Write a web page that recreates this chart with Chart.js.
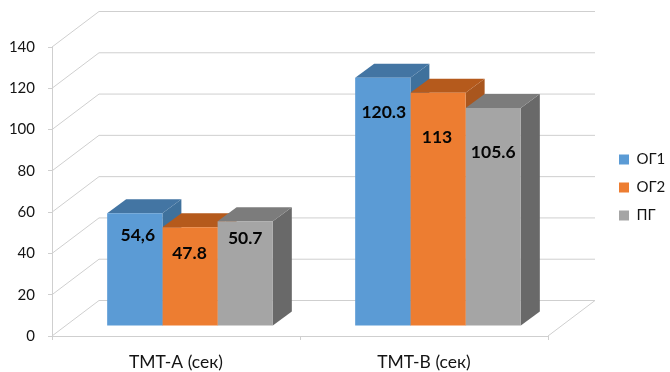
<!DOCTYPE html>
<html>
<head>
<meta charset="utf-8">
<script src="https://cdn.jsdelivr.net/npm/chart.js@4"></script>
<style>
html, body { margin: 0; padding: 0; background: #fff; }
#wrap { width: 670px; height: 372px; }
</style>
</head>
<body>
<div id="wrap"><canvas id="testChart"></canvas></div>
<script>
const categories = ["ТМТ-А (сек)", "ТМТ-В (сек)"];
const seriesNames = ["ОГ1", "ОГ2", "ПГ"];
const og1Values = [54.6, 120.3];
const og2Values = [47.8, 113];
const pgValues = [50.7, 105.6];
const og1Labels = ["54,6", "120.3"];
const og2Labels = ["47.8", "113"];
const pgLabels = ["50.7", "105.6"];

// label nudges from bar centre / bar top, per series and category
const labelNudge = [
    [[3, 22], [1, 35]],
    [[-0.5, 26], [-1, 45]],
    [[0, 17], [0, 44]]
];

const frontColors = ["#5B9BD5", "#ED7D31", "#A5A5A5"];
const sideColors = ["#3F719C", "#A9561E", "#696969"];
const topColors = ["#4375A3", "#B55A1C", "#7C7C7C"];

const FONT = "Lato, 'Open Sans', sans-serif";
const TEXT = "#141414";
const GRID = "#cfcfcf";

const WALL = { x: 47, y: -35.5 };   // depth of the box
const FLOOR = { x: 14, y: -10 };    // where the bars stand on the floor
const DEPTH = { x: 19, y: -14 };    // depth of one bar

function line(ctx, x1, y1, x2, y2) {
    ctx.beginPath();
    ctx.moveTo(x1, y1);
    ctx.lineTo(x2, y2);
    ctx.stroke();
}

function poly(ctx, pts, color) {
    ctx.fillStyle = color;
    ctx.beginPath();
    pts.forEach((p, i) => i ? ctx.lineTo(p[0], p[1]) : ctx.moveTo(p[0], p[1]));
    ctx.closePath();
    ctx.fill();
}

const box3d = {
    id: "box3d",

    beforeLayout(chart) {
        // keep the plot width fixed, the legend sits further right
        const legend = chart.legend;
        if (!legend._fitWrapped) {
            const fit = legend.fit;
            legend.fit = function () {
                fit.call(this);
                this.width = 122;
            };
            legend._fitWrapped = true;
        }
    },

    afterLayout(chart) {
        chart.legend.left = 606;
        chart.legend.top = 3;
    },

    beforeDatasetsDraw(chart) {
        const ctx = chart.ctx;
        const { left, right, bottom } = chart.chartArea;
        const yScale = chart.scales.y;

        // side wall and back wall lines
        ctx.save();
        ctx.strokeStyle = GRID;
        ctx.lineWidth = 1;
        yScale.ticks.forEach(t => {
            const y = yScale.getPixelForValue(t.value);
            line(ctx, left, y, left + WALL.x, y + WALL.y);
            line(ctx, left + WALL.x, y + WALL.y, right + WALL.x, y + WALL.y);
        });
        line(ctx, right, bottom, right + WALL.x, bottom + WALL.y);
        ctx.restore();

        // bars stand back from the front edge of the floor
        ctx.save();
        ctx.translate(FLOOR.x, FLOOR.y);
        chart.data.datasets.forEach((ds, i) => {
            chart.getDatasetMeta(i).data.forEach(bar => {
                const l = bar.x - bar.width / 2;
                const r = bar.x + bar.width / 2;
                poly(ctx, [[r, bar.y], [r + DEPTH.x, bar.y + DEPTH.y], [r + DEPTH.x, bar.base + DEPTH.y], [r, bar.base]], sideColors[i]);
                poly(ctx, [[l, bar.y], [l + DEPTH.x, bar.y + DEPTH.y], [r + DEPTH.x, bar.y + DEPTH.y], [r, bar.y]], topColors[i]);
            });
        });
    },

    afterDatasetsDraw(chart) {
        const ctx = chart.ctx;
        ctx.font = "bold 17.5px " + FONT;
        ctx.fillStyle = "#050505";
        ctx.textAlign = "center";
        ctx.textBaseline = "middle";
        chart.data.datasets.forEach((ds, i) => {
            chart.getDatasetMeta(i).data.forEach((bar, j) => {
                const nudge = labelNudge[i][j];
                ctx.fillText(ds.valueLabels[j], bar.x + nudge[0], bar.y + nudge[1]);
            });
        });
        ctx.restore();
    }
};

const seriesValues = [og1Values, og2Values, pgValues];
const seriesLabels = [og1Labels, og2Labels, pgLabels];

new Chart(document.getElementById("testChart"), {
    type: "bar",
    data: {
        labels: categories,
        datasets: seriesNames.map((name, i) => ({
            label: name,
            data: seriesValues[i],
            valueLabels: seriesLabels[i],
            backgroundColor: frontColors[i],
            borderWidth: 0,
            clip: false,
            categoryPercentage: 0.668,
            barPercentage: 1
        }))
    },
    plugins: [box3d],
    options: {
        responsive: true,
        maintainAspectRatio: false,
        animation: false,
        layout: { padding: { top: 47 } },
        plugins: {
            tooltip: { enabled: false },
            legend: {
                position: "right",
                labels: {
                    boxWidth: 10,
                    boxHeight: 10,
                    padding: 13,
                    color: TEXT,
                    font: { family: FONT, size: 15 }
                }
            }
        },
        scales: {
            x: {
                afterFit(scale) {
                    scale.height = 36;
                    scale.paddingLeft = 0;
                    scale.paddingRight = 0;
                },
                border: { color: GRID },
                grid: { drawOnChartArea: false, color: GRID, tickLength: 4 },
                ticks: { color: TEXT, padding: 12, font: { family: FONT, size: 17.5 } }
            },
            y: {
                min: 0,
                max: 140,
                afterFit(scale) {
                    scale.width = 52;
                    scale.paddingTop = 0;
                    scale.paddingBottom = 0;
                },
                border: { color: GRID },
                grid: { drawOnChartArea: false, color: GRID, tickLength: 4 },
                ticks: { stepSize: 20, color: TEXT, padding: 13, font: { family: FONT, size: 15 } }
            }
        }
    }
});
</script>
</body>
</html>
